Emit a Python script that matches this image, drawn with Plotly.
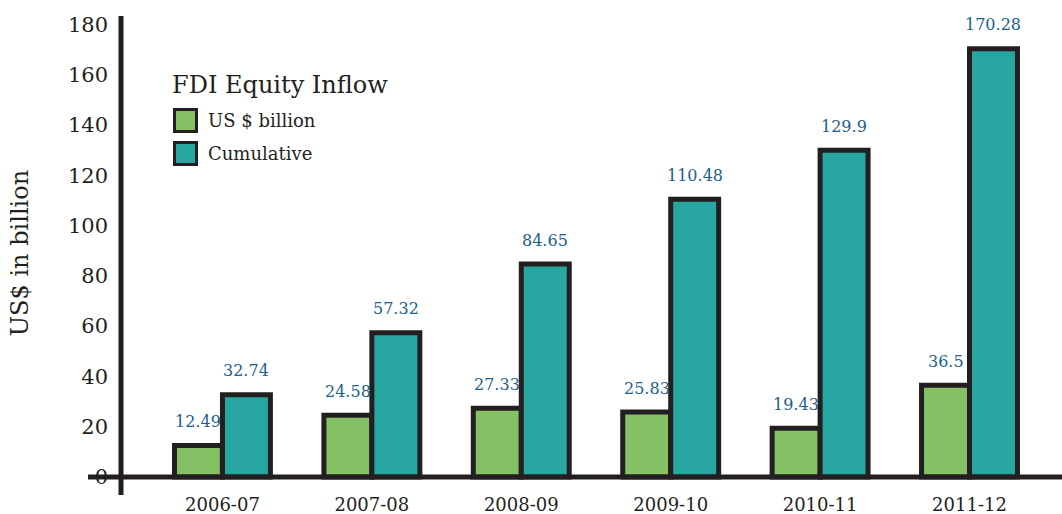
import plotly.graph_objects as go

# FDI equity inflow into India, US$ billion
years = ["2006-07", "2007-08", "2008-09", "2009-10", "2010-11", "2011-12"]
annual = [12.49, 24.58, 27.33, 25.83, 19.43, 36.5]
cumulative = [32.74, 57.32, 84.65, 110.48, 129.9, 170.28]
y_ticks = [0, 20, 40, 60, 80, 100, 120, 140, 160, 180]

legend_title = "FDI Equity Inflow"
series_names = ["US $ billion", "Cumulative"]

GREEN = "#85C065"
TEAL = "#27A6A2"
DARK = "#231F20"
LABEL_BLUE = "#1D5F8C"
FONT = "DejaVu Serif"

W, H = 1062, 514
ML, MR, MT, MB = 121, 0, 16, 24
PW, PH = W - ML - MR, H - MT - MB


def px_x(p):
    return (p - ML) / PW


def px_y(p):
    return (H - MB - p) / PH


BAR_W = 0.321
x_idx = list(range(len(years)))

fig = go.Figure()
fig.add_trace(go.Bar(
    x=x_idx, y=annual, name=series_names[0], width=BAR_W, offset=-BAR_W,
    marker=dict(color=GREEN, line=dict(color=DARK, width=5)),
    showlegend=False,
))
fig.add_trace(go.Bar(
    x=x_idx, y=cumulative, name=series_names[1], width=BAR_W, offset=0,
    marker=dict(color=TEAL, line=dict(color=DARK, width=5)),
    showlegend=False,
))

annotations = []
# value labels above each bar
for i, (a, c) in enumerate(zip(annual, cumulative)):
    for val, dx in ((a, -BAR_W / 2), (c, BAR_W / 2)):
        annotations.append(dict(
            x=i + dx, y=val, xref="x", yref="y", text=str(val),
            showarrow=False, yanchor="middle", yshift=24,
            font=dict(family=FONT, size=16, color=LABEL_BLUE),
        ))

# legend block
annotations.append(dict(
    x=px_x(170), y=px_y(85), xref="paper", yref="paper", text=legend_title,
    showarrow=False, xanchor="left", yanchor="middle",
    font=dict(family=FONT, size=24, color=DARK),
))
shapes = []
for name, color, top in ((series_names[0], GREEN, 109.5), (series_names[1], TEAL, 142.5)):
    shapes.append(dict(
        type="rect", xref="paper", yref="paper",
        x0=px_x(174.5), x1=px_x(196.5), y0=px_y(top), y1=px_y(top + 22),
        fillcolor=color, line=dict(color=DARK, width=3),
    ))
    annotations.append(dict(
        x=px_x(206), y=px_y(top + 11), xref="paper", yref="paper", text=name,
        showarrow=False, xanchor="left", yanchor="middle",
        font=dict(family=FONT, size=18, color=DARK),
    ))

# axis lines (the y axis runs slightly below zero, the x axis slightly left of the y axis)
shapes.append(dict(
    type="line", xref="paper", yref="paper", x0=0, x1=0,
    y0=px_y(495), y1=1, line=dict(color=DARK, width=5),
))
shapes.append(dict(
    type="line", xref="paper", yref="y", x0=px_x(88), x1=1,
    y0=0, y1=0, line=dict(color=DARK, width=5),
))

fig.update_layout(
    width=W, height=H,
    margin=dict(l=ML, r=MR, t=MT, b=MB, pad=0),
    paper_bgcolor="white", plot_bgcolor="white",
    barmode="overlay",
    font=dict(family=FONT, color=DARK),
    xaxis=dict(
        range=[-0.679, 5.619], tickmode="array", tickvals=x_idx, ticktext=years,
        showgrid=False, zeroline=False, showline=False, ticks="",
        tickfont=dict(family=FONT, size=18, color=DARK),
        ticklabelstandoff=2,
    ),
    yaxis=dict(
        range=[-5.17, 183.3], tickmode="array", tickvals=y_ticks,
        showgrid=False, zeroline=False, showline=False, ticks="",
        tickfont=dict(family=FONT, size=21, color=DARK),
        ticklabelstandoff=12,
        title=dict(text="US$ in billion", font=dict(family=FONT, size=24, color=DARK), standoff=32),
    ),
    shapes=shapes,
    annotations=annotations,
)

fig.write_html("out.html")
